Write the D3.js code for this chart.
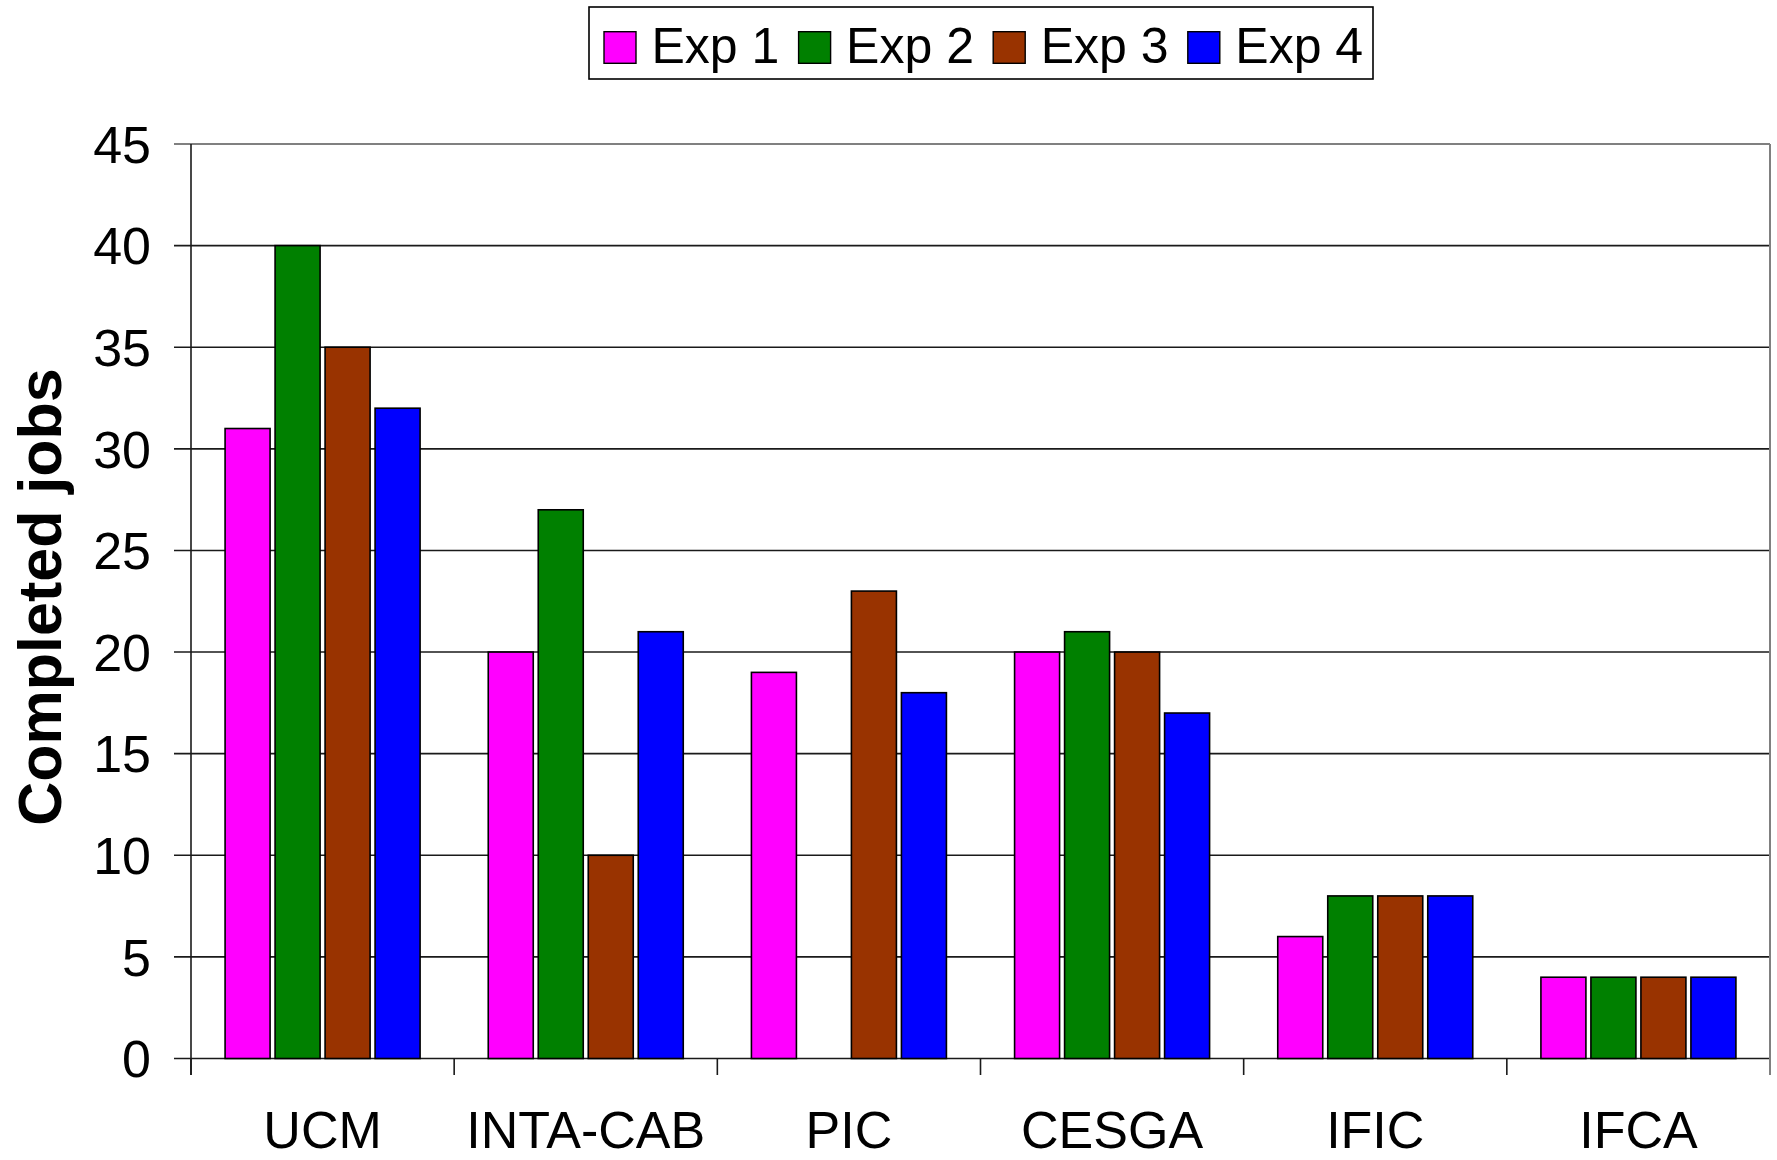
<!DOCTYPE html>
<html>
<head>
<meta charset="utf-8">
<script src="https://cdn.jsdelivr.net/npm/d3@7"></script>
<style>
  html, body { margin: 0; padding: 0; background: #fff; }
  svg { display: block; font-family: "Liberation Sans", Arial, sans-serif; }
</style>
</head>
<body>
<svg id="chart" width="1777" height="1160"></svg>
<script>
const categories = ["UCM", "INTA-CAB", "PIC", "CESGA", "IFIC", "IFCA"];
const seriesNames = ["Exp 1", "Exp 2", "Exp 3", "Exp 4"];
const exp1 = [31, 20, 19, 20, 6, 4];
const exp2 = [40, 27, 0, 21, 8, 4];
const exp3 = [35, 10, 23, 20, 8, 4];
const exp4 = [32, 21, 18, 17, 8, 4];
const yTicks = [0, 5, 10, 15, 20, 25, 30, 35, 40, 45];
const colors = ["#FF00FF", "#008000", "#993300", "#0000FF"];

const seriesValues = [exp1, exp2, exp3, exp4];

(function () {
const svg = d3.select("#chart");
const mLeft = 191, mRight = 1770, mTop = 144, mBottom = 1058.5;

const y = d3.scaleLinear().domain([0, 45]).range([mBottom, mTop]);
const x0 = d3.scaleBand().domain(categories).range([mLeft, mRight])
  .paddingInner(0.24).paddingOuter(0.12);
const x1 = d3.scaleBand().domain(seriesNames).range([0, x0.bandwidth()])
  .paddingInner(0.1).paddingOuter(0.05);
const catStep = (mRight - mLeft) / categories.length;

// gridlines
svg.append("g").selectAll("line").data(yTicks).join("line")
  .attr("x1", 174).attr("x2", mRight)
  .attr("y1", d => y(d)).attr("y2", d => y(d))
  .attr("stroke", d => d === 45 ? "#808080" : "#1a1a1a")
  .attr("stroke-width", d => d === 45 ? 2 : 1.6);

// right border
svg.append("line").attr("x1", mRight).attr("x2", mRight)
  .attr("y1", y(45)).attr("y2", 1075)
  .attr("stroke", "#808080").attr("stroke-width", 2);

// bars
const groups = svg.append("g").selectAll("g").data(categories).join("g")
  .attr("transform", d => `translate(${x0(d)},0)`);
groups.selectAll("rect")
  .data((c, i) => seriesNames.map((s, j) => ({ s, j, v: seriesValues[j][i] })).filter(d => d.v > 0))
  .join("rect")
  .attr("x", d => x1(d.s))
  .attr("width", x1.bandwidth())
  .attr("y", d => y(d.v))
  .attr("height", d => y(0) - y(d.v))
  .attr("fill", d => colors[d.j])
  .attr("stroke", "#000")
  .attr("stroke-width", 1.6);

// y axis line
svg.append("line").attr("x1", mLeft).attr("x2", mLeft)
  .attr("y1", y(45)).attr("y2", 1075)
  .attr("stroke", "#1a1a1a").attr("stroke-width", 1.6);

// x axis ticks at category boundaries
const bounds = d3.range(categories.length + 1).map(i => mLeft + i * catStep);
svg.append("g").selectAll("line").data(bounds).join("line")
  .attr("x1", d => d).attr("x2", d => d)
  .attr("y1", mBottom).attr("y2", 1075)
  .attr("stroke", d => d >= mRight - 1 ? "#808080" : "#1a1a1a")
  .attr("stroke-width", 1.6);

// y tick labels
svg.append("g").selectAll("text").data(yTicks).join("text")
  .attr("x", 151).attr("y", d => y(d)).attr("dy", "0.36em")
  .attr("text-anchor", "end").attr("font-size", 52).attr("fill", "#000")
  .text(d => d);

// x labels
svg.append("g").selectAll("text").data(categories).join("text")
  .attr("x", d => x0(d) + x0.bandwidth() / 2).attr("y", 1148)
  .attr("text-anchor", "middle").attr("font-size", 52).attr("fill", "#000")
  .text(d => d);

// y axis title
svg.append("text")
  .attr("transform", "translate(61,597) rotate(-90)")
  .attr("text-anchor", "middle").attr("font-size", 61).attr("font-weight", "bold")
  .attr("fill", "#000")
  .text("Completed jobs");

// legend
const legend = svg.append("g");
legend.append("rect").attr("x", 589).attr("y", 7).attr("width", 784).attr("height", 72)
  .attr("fill", "#fff").attr("stroke", "#000").attr("stroke-width", 1.6);
const lx = d3.scalePoint().domain(seriesNames).range([604, 604 + 3 * 194.6]);
const items = legend.selectAll("g.item").data(seriesNames).join("g").attr("class", "item")
  .attr("transform", d => `translate(${lx(d)},0)`);
items.append("rect").attr("x", 0).attr("y", 31.7).attr("width", 32).attr("height", 31.6)
  .attr("fill", (d, i) => colors[i]).attr("stroke", "#000").attr("stroke-width", 1.4);
items.append("text").attr("x", 47.5).attr("y", 63.3)
  .attr("font-size", 50).attr("fill", "#000").text(d => d);
})();
</script>
</body>
</html>
